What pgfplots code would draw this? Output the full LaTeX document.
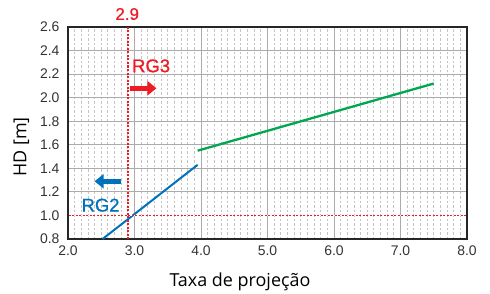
\documentclass[border=0pt]{standalone}
\usepackage{fontspec}
\setmainfont{Liberation Sans}
\newfontfamily\labelfont{Open Sans}
\newfontfamily\rgfont[FakeBold=0.8]{Liberation Sans}
\usepackage{pgfplots}
\pgfplotsset{compat=1.18}
\usetikzlibrary{arrows.meta}
\definecolor{cgreen}{HTML}{00A651}
\definecolor{cblue}{HTML}{0072BC}
\definecolor{cred}{HTML}{ED1C24}
\definecolor{cgrid}{HTML}{ABABAB}
\definecolor{ctick}{HTML}{333333}
\begin{document}
\begin{tikzpicture}
\useasboundingbox (-68bp,-55bp) rectangle (422bp,239bp);
\begin{axis}[
  scale only axis, width=399bp, height=212bp,
  xmin=2, xmax=8, ymin=0.8, ymax=2.6,
  xtick={2,3,4,5,6,7,8}, ytick={0.8,1.0,1.2,1.4,1.6,1.8,2.0,2.2,2.4,2.6},
  minor x tick num=9,
  major tick length=0pt, minor tick length=0pt,
  grid=both,
  major grid style={cgrid, line width=0.9bp},
  minor grid style={cgrid!70, line width=0.8bp, dash pattern=on 2.5bp off 2bp},
  axis line style={black!85, line width=1.2bp},
  /pgf/number format/assume math mode=true,
  /pgf/number format/.cd, fixed, fixed zerofill, precision=1, /pgfplots/.cd,
  ticklabel style={font=\fontsize{14}{16}\selectfont, text=ctick},
  xticklabel style={yshift=-3bp},
  yticklabel style={xshift=-5bp},
  xlabel={\labelfont\fontsize{18}{20}\selectfont Taxa de projeção},
  ylabel={\labelfont\fontsize{18}{20}\selectfont HD [m]},
  xlabel style={at={(axis description cs:0.431,-0.203)}, anchor=center},
  ylabel style={at={(axis description cs:-0.1165,0.434)}, anchor=center},
  clip=false,
]
\addplot[cblue, line width=2bp] coordinates {(2.52,0.8) (3.95,1.43)};
\addplot[cgreen, line width=2.3bp] coordinates {(3.95,1.55) (7.5,2.12)};
\draw[draw=cred, line width=1.5bp, dash pattern=on 2bp off 1.5bp] (axis cs:2.9,0.8) -- (axis cs:2.9,2.6);
\draw[draw=white, line width=1.6bp] (axis cs:2.01,1.0) -- (axis cs:7.99,1.0);
\draw[draw=cred, line width=1.6bp, dash pattern=on 2bp off 1.5bp] (axis cs:2.01,1.0) -- (axis cs:7.99,1.0);
\node[text=cred, font=\rgfont\fontsize{17}{19}\selectfont] at (axis cs:2.89,2.71) {2.9};
\node[text=cred, font=\rgfont\fontsize{18.5}{20}\selectfont] at (axis cs:3.25,2.27) {RG3};
\node[text=cblue, font=\rgfont\fontsize{18.5}{20}\selectfont] at (axis cs:2.49,1.087) {RG2};
\draw[cred, line width=5bp, -{Triangle[length=9bp,width=14bp]}] (axis cs:2.93,2.08) -- (axis cs:3.33,2.08);
\draw[cblue, line width=5bp, -{Triangle[length=9bp,width=14bp]}] (axis cs:2.80,1.29) -- (axis cs:2.40,1.29);
\end{axis}
\end{tikzpicture}
\end{document}
